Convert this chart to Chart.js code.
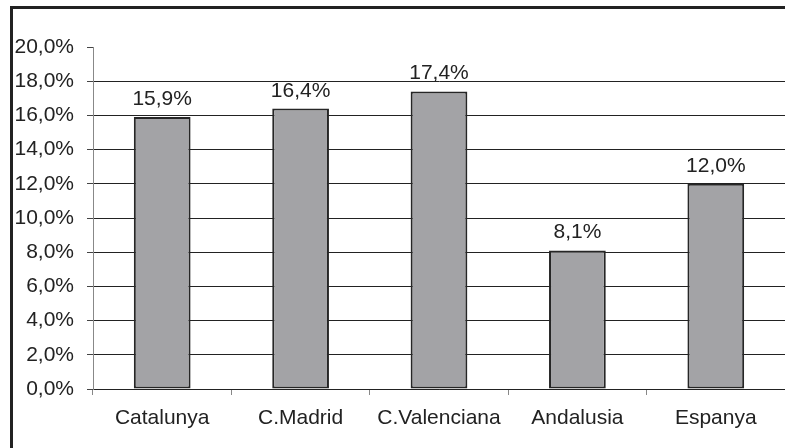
<!DOCTYPE html>
<html>
<head>
<meta charset="utf-8">
<script src="https://cdn.jsdelivr.net/npm/chart.js@4"></script>
<style>
  html, body { margin:0; padding:0; background:#fff; }
  #wrap { position:relative; width:785px; height:448px; overflow:hidden; }
  #frame { position:absolute; left:10px; top:6px; width:900px; height:600px;
           border-left:3px solid #222; border-top:3px solid #222; pointer-events:none; }
</style>
</head>
<body>
<div id="wrap">
  <canvas id="c" width="785" height="448"></canvas>
  <div id="frame"></div>
</div>
<script>
// ── DADES ─────────────────────────────────────────
var CATEGORIES = ['Catalunya', 'C.Madrid', 'C.Valenciana', 'Andalusia', 'Espanya'];
var VALORS     = [15.9, 16.4, 17.4, 8.1, 12.0];
var Y_MIN = 0, Y_MAX = 20, Y_STEP = 2;

var FONT = "'Liberation Sans', Arial, sans-serif";
var MIDA = 21;

function pct(v) { return v.toFixed(1).replace('.', ',') + '%'; }

// etiquetes de valor damunt de cada barra
var etiquetes = {
  id: 'etiquetes',
  afterDatasetsDraw: function (chart) {
    var ctx = chart.ctx;
    var meta = chart.getDatasetMeta(0);
    ctx.save();
    ctx.font = MIDA + 'px ' + FONT;
    ctx.fillStyle = '#222';
    ctx.textAlign = 'center';
    ctx.textBaseline = 'alphabetic';
    meta.data.forEach(function (bar, i) {
      ctx.fillText(pct(VALORS[i]), bar.x, bar.y - 12);
    });
    ctx.restore();
  }
};

new Chart(document.getElementById('c').getContext('2d'), {
  type: 'bar',
  data: {
    labels: CATEGORIES,
    datasets: [{
      data: VALORS,
      backgroundColor: '#a3a3a6',
      borderColor: '#262626',
      borderWidth: 2,
      borderSkipped: false,
      barPercentage: 0.41,
      categoryPercentage: 1.0
    }]
  },
  options: {
    responsive: false,
    animation: false,
    events: [],
    layout: { padding: { top: 47, right: 0, bottom: 0, left: 0 } },
    plugins: { legend: { display: false }, tooltip: { enabled: false } },
    scales: {
      x: {
        offset: true,
        grid: { drawOnChartArea: false, drawTicks: true, tickLength: 6, color: '#888', offset: true },
        border: { color: '#222', width: 1 },
        ticks: { font: { family: FONT, size: MIDA }, color: '#222', padding: 11 },
        afterFit: function (s) { s.height = 59; }
      },
      y: {
        min: Y_MIN, max: Y_MAX,
        grid: {
          color: function (c) { return c.tick && c.tick.value === Y_MAX ? 'rgba(0,0,0,0)' : '#222'; },
          tickColor: '#444',
          tickLength: 6,
          lineWidth: 1
        },
        border: { color: '#888', width: 1 },
        ticks: {
          stepSize: Y_STEP,
          font: { family: FONT, size: MIDA },
          color: '#222',
          padding: 13,
          callback: function (v) { return pct(v); }
        },
        afterFit: function (s) { s.width = 93; }
      }
    }
  },
  plugins: [etiquetes]
});
</script>
</body>
</html>
